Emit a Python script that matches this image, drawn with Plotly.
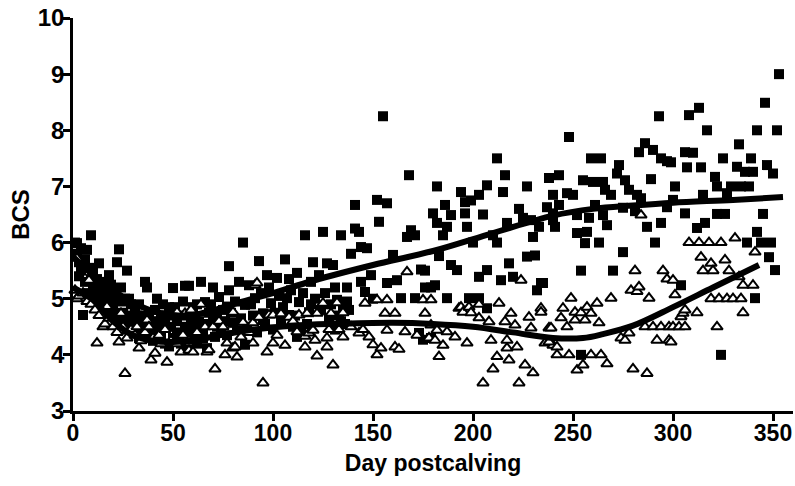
import plotly.graph_objects as go

# ---- data (day postcalving, BCS) ----
squares = [
    (1,6.0),(2,5.8),(2,5.99),(3,5.65),(4,5.9),(5,4.71),(6,5.7),(7,5.87),(8,5.55),(9,6.13),
    (10,5.5),(10,5.25),(11,5.2),(12,5.35),(13,5.63),(14,5.05),(15,5.3),(16,5.15),(17,4.95),(18,5.42),
    (19,5.25),(20,4.85),(21,5.1),(22,5.65),(23,5.88),(24,4.95),(25,4.75),(26,5.0),(27,5.5),(28,5.0),
    (28,4.65),(29,4.7),(30,4.6),(31,4.85),(32,4.45),(33,4.9),(34,4.6),(35,4.35),(36,5.3),(37,5.2),
    (38,4.7),(39,4.5),(40,4.25),(41,4.8),(42,5.0),(43,4.55),(44,4.35),(45,4.9),(46,4.2),(47,4.7),
    (48,4.15),(49,4.5),(50,5.19),(51,4.85),(52,4.4),(53,4.3),(54,4.7),(55,4.95),(56,5.23),(57,4.1),
    (58,5.23),(59,4.6),
    (3,5.4),(4,5.5),(6,5.3),(8,5.1),(9,5.35),(11,4.95),(13,5.1),(14,4.85),(16,4.9),(18,4.75),
    (19,5.0),(21,4.7),(23,4.6),(24,5.2),(26,4.6),(27,4.45),(29,4.9),(30,4.4),(32,4.7),(33,4.3),
    (35,4.7),(36,4.5),(38,4.35),(40,4.6),(42,4.4),(44,4.7),(46,4.55),(48,4.85),(50,4.3),(52,4.6),
    (54,4.2),(56,4.5),(58,4.4),
    (60,4.3),(61,4.53),(62,4.9),(62,4.2),(64,5.3),(65,4.45),(66,4.94),(67,4.12),(68,4.75),(70,5.2),
    (70,4.62),(71,4.32),(72,4.5),(73,5.03),(75,4.8),(77,4.86),(77,4.35),(78,5.58),(78,5.15),(80,4.57),
    (82,4.44),(83,5.3),(85,6.0),(86,4.89),(86,4.18),(88,5.24),(90,4.7),(91,5.01),(93,5.67),(95,4.74),
    (95,4.62),(97,5.42),(99,4.92),(100,4.45),(102,5.37),(104,4.6),(106,5.7),(107,5.01),(108,5.35),(108,4.71),
    (110,4.5),(112,5.46),(112,4.32),(113,4.94),(114,4.4),(116,6.13),(118,4.76),(119,5.3),
    (60,4.85),(63,4.6),(65,4.3),(67,4.55),(69,4.9),(72,4.7),(74,4.4),(76,4.6),(79,4.75),(81,4.95),
    (84,4.65),(87,4.5),(89,4.9),(92,4.4),(94,5.1),(96,4.55),(98,5.2),(101,4.75),(103,5.05),(105,4.85),
    (109,5.15),(111,4.7),(115,5.1),(117,4.55),(119,4.9),
    (120,5.65),(121,5.0),(123,5.42),(125,6.19),(127,5.63),(128,4.65),(130,5.6),(131,4.45),(132,4.98),(133,4.7),
    (134,6.13),(135,4.86),(136,4.55),(137,5.2),(138,4.8),(139,5.8),(141,6.25),(141,6.67),(143,6.19),(144,5.92),
    (144,5.3),(146,5.12),(147,5.9),(149,5.42),(150,5.0),(152,6.76),(153,6.37),(155,8.25),(157,6.7),(157,5.28),
    (160,5.78),(162,5.33),(164,5.01),(167,6.1),(168,7.2),(169,6.22),(171,6.13),(171,5.01),(173,4.39),(174,5.52),
    (175,4.27),(176,5.5),(176,5.2),(179,5.2),(179,4.3),
    (124,4.8),(126,5.1),(129,4.9),(131,5.2),(134,4.6),(137,4.95),
    (180,6.52),(181,5.24),(182,7.0),(182,6.35),(183,5.76),(185,6.13),(186,6.67),(187,6.28),(187,5.01),(189,6.49),
    (189,5.6),(192,5.51),(194,6.9),(196,6.72),(196,6.52),(197,6.28),(198,5.01),(199,6.75),(200,6.0),(203,6.85),
    (203,5.39),(203,5.01),(205,6.5),(207,7.02),(207,5.51),(207,4.83),(210,6.13),(212,7.5),(212,6.0),(214,5.33),
    (215,6.9),(216,7.2),(217,6.35),(218,5.63),(220,5.39),(223,6.6),(225,6.44),(227,7.0),(227,5.75),(229,6.4),
    (230,6.1),(231,5.77),(232,5.15),(233,6.28),(234,5.28),(235,5.28),(237,6.63),(238,7.15),
    (240,6.4),(240,6.85),(240,6.52),(241,6.28),(243,7.2),(243,6.67),(247,6.88),(248,7.88),(250,6.85),(252,6.49),
    (252,6.17),(254,4.0),(254,5.5),(255,7.11),(256,5.99),(257,6.19),(258,6.44),(259,7.5),(260,7.08),(261,6.67),
    (263,6.0),(264,7.5),(265,7.08),(265,6.49),(266,6.94),(267,6.31),(269,6.85),(270,5.5),(272,7.23),(273,7.38),
    (275,6.62),(275,5.83),(276,7.11),(278,6.94),(281,6.56),(282,6.85),(283,7.61),(284,6.79),(286,7.77),(287,6.28),
    (289,7.13),(290,7.65),(291,6.0),(293,8.25),(294,7.5),(294,6.35),(297,7.45),(297,6.63),
    (299,7.43),(300,6.76),(301,7.0),(304,5.24),(306,7.61),(306,6.52),(307,7.34),(308,8.27),(310,7.6),(312,6.26),
    (313,8.4),(314,7.34),(315,6.85),(316,6.35),(317,8.0),(321,7.17),(322,7.0),(322,6.51),(324,4.0),(325,7.5),
    (326,6.51),(327,6.88),(329,7.0),(332,7.35),(333,7.75),(334,7.0),(336,7.26),(337,6.0),(338,7.0),(339,7.5),
    (340,7.26),(341,5.01),(342,8.0),(342,6.19),(344,6.0),(345,6.51),(346,8.49),(347,7.38),(348,5.74),(349,6.0),
    (350,7.23),(351,5.51),(352,8.0),(353,9.0),
]

triangles = [
    (1,5.15),(2,5.0),(2,5.72),(3,5.05),(5,5.1),(7,4.95),(8,5.33),(9,4.9),(11,4.8),(12,4.21),
    (13,4.7),(15,4.5),(16,4.55),(17,4.86),(18,4.65),(20,4.5),(22,4.4),(23,4.23),(24,4.74),(25,4.5),
    (26,3.67),(27,4.3),(29,4.45),(31,4.35),(32,4.5),(33,4.12),(34,4.25),(36,4.4),(37,4.62),(38,4.5),
    (39,3.91),(40,4.3),(41,4.03),(43,4.35),(44,4.2),(46,4.45),(47,3.87),(49,4.25),(52,4.76),(52,4.2),
    (54,4.05),(55,4.35),(56,4.74),(58,4.08),(58,4.25),(59,4.8),
    (60,4.05),(62,4.4),(64,4.9),(66,4.5),(67,4.05),(68,4.09),(70,4.5),(71,3.75),(73,4.6),(75,4.5),
    (76,4.0),(77,4.21),(80,4.76),(80,4.12),(81,4.14),(82,3.96),(84,4.32),(85,4.58),(88,4.4),(90,4.21),
    (90,4.57),(91,5.24),(92,5.28),(93,4.67),(95,3.5),(97,4.05),(98,4.71),(100,4.21),(100,4.71),(102,4.35),
    (104,4.73),(106,4.17),(108,4.67),(110,4.6),(112,4.41),(113,4.71),(116,4.14),(116,4.33),(117,4.74),(118,4.39),
    (120,4.44),(121,4.26),(122,4.74),(122,3.98),(125,4.92),(127,4.3),(127,4.14),(128,4.45),(129,4.74),(130,3.82),
    (132,4.93),(133,4.45),(135,4.32),(135,4.75),(139,4.5),(143,4.39),(145,4.45),(146,4.92),(148,4.32),(150,4.18),
    (152,4.98),(152,4.0),(154,4.12),(156,4.74),(157,4.44),(157,4.98),(161,4.14),(161,4.74),(163,4.1),(166,4.41),
    (167,5.48),(172,4.35),(175,4.98),(176,4.74),(178,4.3),(179,4.98),
    (179,4.53),(181,4.26),(182,4.44),(183,3.97),(185,4.17),(187,4.41),(191,4.32),(193,4.83),(194,4.85),(195,4.76),
    (197,4.21),(198,4.85),(199,4.75),(203,4.9),(203,4.66),(205,3.5),(208,4.59),(209,4.26),(210,3.75),(212,3.97),
    (213,4.92),(216,4.59),(217,4.12),(217,4.26),(218,3.91),(219,4.74),(221,4.53),(222,4.14),(223,3.5),(224,5.33),
    (226,3.82),(228,4.67),(229,4.48),(230,3.68),(234,4.83),(234,4.76),(236,4.21),(238,4.48),(240,4.17),
    (239,4.48),(238,4.23),(242,4.14),(242,4.0),(244,4.66),(245,4.83),(247,4.5),(248,4.0),(249,5.01),(251,4.76),
    (251,4.62),(252,3.73),(254,4.75),(255,3.82),(256,4.62),(257,4.85),(259,4.74),(259,4.0),(262,4.92),(263,4.57),
    (264,4.0),(267,3.84),(269,5.01),(274,4.3),(276,4.26),(278,4.39),(279,5.15),(280,3.75),(281,5.5),(282,5.13),
    (283,5.21),(284,6.49),(286,4.5),(287,3.67),(288,5.01),(290,4.5),(292,4.26),(294,4.5),(295,5.5),(297,5.35),
    (298,4.5),(298,4.26),
    (300,5.33),(300,4.5),(299,4.23),(301,5.07),(303,4.5),(304,4.68),(305,4.74),(306,4.8),(306,4.5),(308,6.0),
    (312,4.75),(313,6.0),(314,5.74),(315,5.5),(318,6.0),(319,5.63),(319,5.0),(320,5.5),(322,4.5),(323,5.0),
    (324,6.0),(326,5.69),(327,5.0),(328,5.5),(330,5.0),(331,6.08),(333,5.39),(334,5.0),(335,5.24),(335,4.75),
    (340,5.24),(341,5.83),
]

# fitted curves
fit_sq_day = [0, 10, 20, 30, 40, 50, 60, 70, 80, 100, 120, 150, 180, 210, 240, 260, 280, 300, 330, 355]
fit_sq_bcs = [5.75, 5.42, 5.15, 4.93, 4.78, 4.71, 4.71, 4.79, 4.9, 5.1, 5.32, 5.6, 5.85, 6.17, 6.48, 6.6, 6.66, 6.71, 6.76, 6.81]
fit_tri_day = [0, 10, 20, 30, 40, 50, 60, 75, 90, 110, 130, 160, 180, 200, 220, 240, 255, 265, 280, 300, 320, 343]
fit_tri_bcs = [5.2, 4.98, 4.6, 4.35, 4.25, 4.23, 4.26, 4.36, 4.45, 4.52, 4.55, 4.57, 4.55, 4.5, 4.4, 4.3, 4.3, 4.37, 4.52, 4.85, 5.2, 5.6]

x_ticks = [0, 50, 100, 150, 200, 250, 300, 350]
y_ticks = [3, 4, 5, 6, 7, 8, 9, 10]

sq_day = [d for d, _ in squares]
sq_bcs = [v for _, v in squares]
tri_day = [d for d, _ in triangles]
tri_bcs = [v for _, v in triangles]

FONT = "Liberation Sans"

fig = go.Figure()
fig.add_trace(go.Scatter(
    x=sq_day, y=sq_bcs, mode="markers", cliponaxis=False,
    marker=dict(symbol="square", size=10, color="black", line=dict(width=0)),
))
fig.add_trace(go.Scatter(
    x=tri_day, y=tri_bcs, mode="markers", cliponaxis=False,
    marker=dict(symbol="triangle-up", size=10, color="white", line=dict(color="black", width=2)),
))
fig.add_trace(go.Scatter(
    x=fit_sq_day, y=fit_sq_bcs, mode="lines",
    line=dict(color="black", width=6, shape="spline", smoothing=1.0),
))
fig.add_trace(go.Scatter(
    x=fit_tri_day, y=fit_tri_bcs, mode="lines",
    line=dict(color="black", width=6, shape="spline", smoothing=1.0),
))

fig.update_layout(
    width=795, height=486,
    margin=dict(l=73, r=2, t=18, b=75),
    plot_bgcolor="white", paper_bgcolor="white",
    showlegend=False,
    font=dict(family=FONT, color="black", size=24, weight="bold"),
)
fig.update_xaxes(
    range=[0, 360], tickvals=x_ticks, ticktext=[str(v) for v in x_ticks],
    automargin=False,
    showgrid=False, zeroline=False, showline=True, linecolor="black", linewidth=2.5,
    ticks="outside", ticklen=7, tickwidth=2.5, tickcolor="black",
    ticklabelstandoff=-7,
    tickfont=dict(family=FONT, size=23, color="black", weight="bold"),
    title=dict(text="Day postcalving", font=dict(family=FONT, size=23, color="black", weight="bold"), standoff=10),
)
fig.update_yaxes(
    range=[3, 10], tickvals=y_ticks, ticktext=[str(v) for v in y_ticks],
    automargin=False,
    showgrid=False, zeroline=False, showline=True, linecolor="black", linewidth=2.5,
    ticks="outside", ticklen=7, tickwidth=2.5, tickcolor="black",
    ticklabelstandoff=-6,
    tickfont=dict(family=FONT, size=24, color="black", weight="bold"),
    title=dict(text="BCS", font=dict(family=FONT, size=24, color="black", weight="bold"), standoff=2),
)

fig.write_html("out.html", config={"displayModeBar": False},
               post_script="document.body.style.margin='0';")
